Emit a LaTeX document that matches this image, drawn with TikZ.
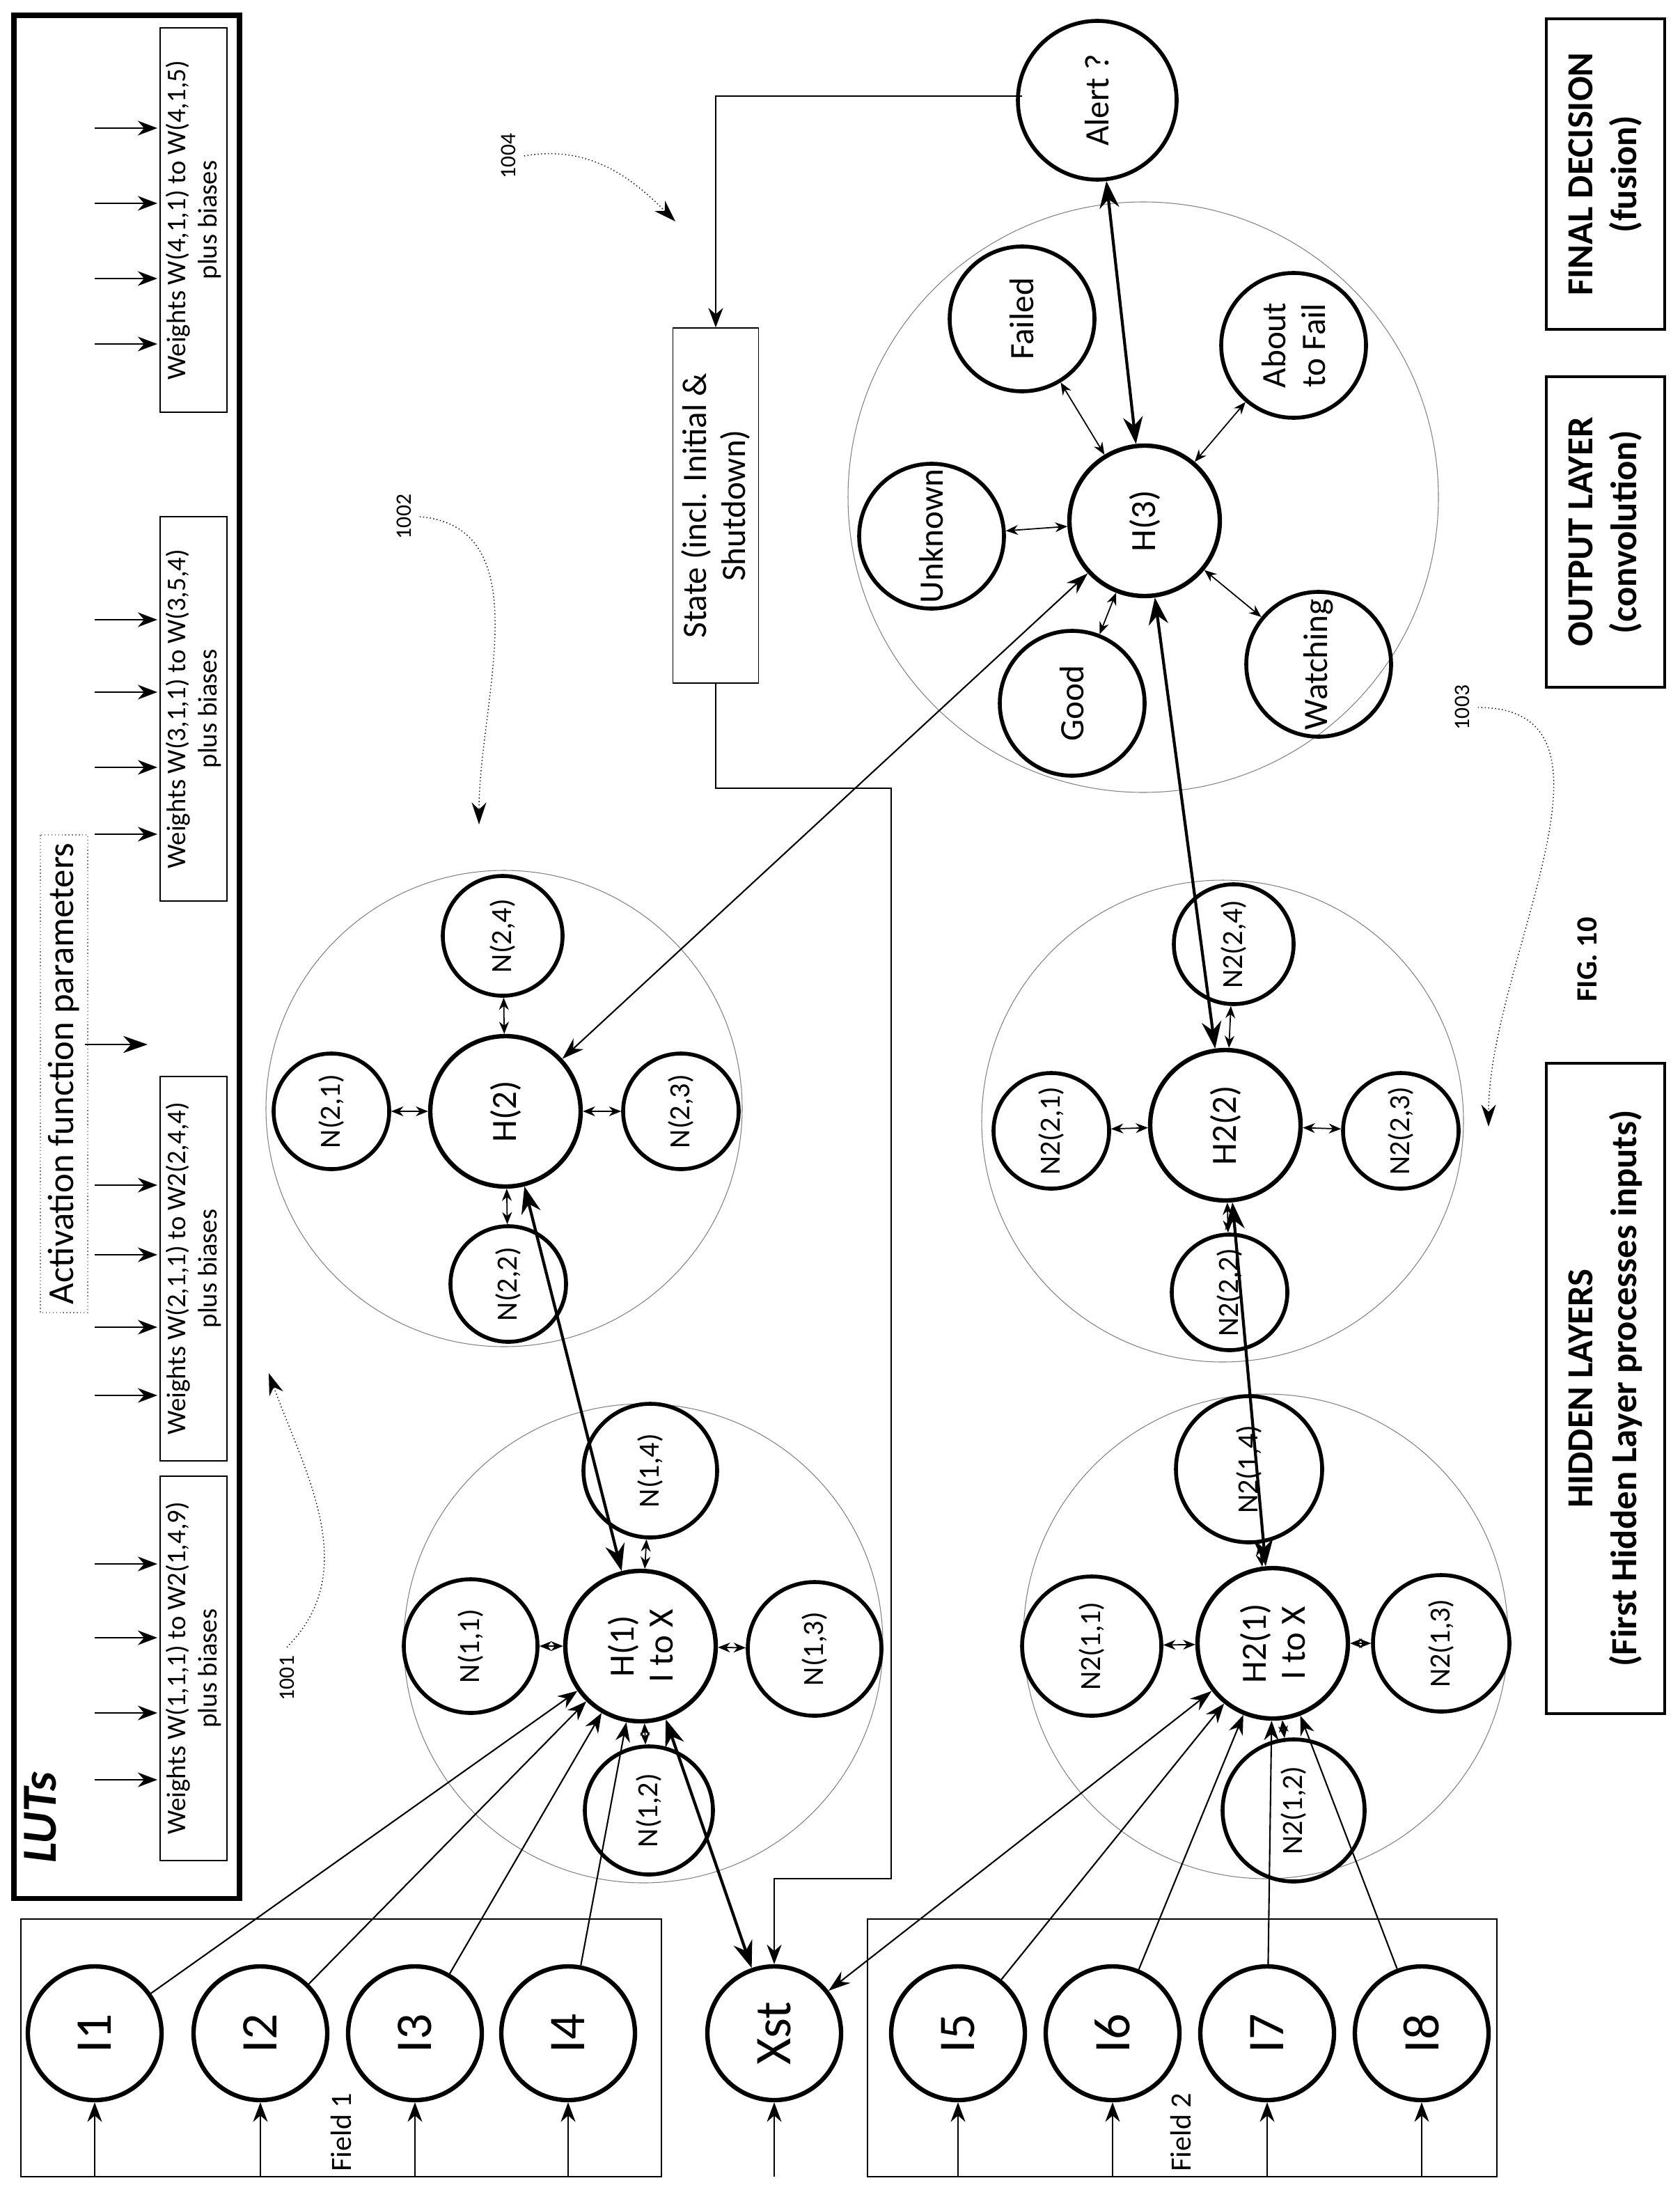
\documentclass[tikz,border=0pt]{standalone}
\usepackage{fontspec}
\setmainfont{Carlito}
\usetikzlibrary{arrows.meta,positioning}

\tikzset{
  hub/.style={circle,draw,line width=1.8pt,minimum size=21.6mm,inner sep=0pt,rotate=90,align=center,font=\fontsize{14.5}{16}\selectfont},
  sat/.style={circle,draw,line width=1.6pt,minimum size=16.6mm,inner sep=0pt,rotate=90,align=center,font=\fontsize{12}{14}\selectfont},
  outn/.style={circle,draw,line width=1.6pt,minimum size=20.8mm,inner sep=0pt,rotate=90,align=center,font=\fontsize{14}{16}\selectfont},
  inp/.style={circle,draw,line width=1.8pt,minimum size=19.2mm,inner sep=0pt,rotate=90,font=\fontsize{21}{23}\selectfont},
  wbox/.style={draw,rotate=90,minimum width=55.2mm,minimum height=9.6mm,align=center,inner sep=1pt,font=\fontsize{11}{13}\selectfont},
  lbox/.style={draw,line width=1.4pt,rotate=90,minimum height=17mm,align=center,font=\bfseries\fontsize{15}{18}\selectfont},
  grp/.style={draw=gray,line width=0.3pt},
  sml/.style={<->,>={Stealth[length=5pt,width=4pt]},line width=0.5pt},
  big/.style={<->,>={Stealth[length=11pt,width=8pt]},line width=1.2pt},
  lnk/.style={->,>={Stealth[length=8pt,width=6pt]},line width=0.6pt},
  refn/.style={rotate=90,font=\fontsize{9}{11}\selectfont},
  refa/.style={->,>={Stealth[length=9pt,width=6pt]},densely dotted,line width=0.4pt}
}

\begin{document}
\begin{tikzpicture}[x=0.2mm,y=-0.2mm]
  \useasboundingbox (0,0) rectangle (1206,1574);

  % LUTs
  \draw[line width=2pt] (10,11) rectangle (172,1363);
  \node[rotate=90,font=\bfseries\itshape\fontsize{20}{22}\selectfont] (luts) at (29,1305) {LUTs};
  \node[wbox] (w1) at (139,1198) {Weights W(1,1,1) to W2(1,4,9)\\plus biases};
  \node[wbox] (w2) at (139,911) {Weights W(2,1,1) to W2(2,4,4)\\plus biases};
  \node[wbox] (w3) at (139,509) {Weights W(3,1,1) to W(3,5,4)\\plus biases};
  \node[wbox] (w4) at (139,158) {Weights W(4,1,1) to W(4,1,5)\\plus biases};
  \foreach \y in {1278,1230,1176,1123,1002,953,901,851,599,551,497,445,247,200,146,92}
    \draw[lnk] (68,\y) -- (113,\y);
  \node[draw=gray,densely dotted,rotate=90,minimum width=68.4mm,minimum height=6mm,font=\fontsize{15}{17}\selectfont] (act) at (46,771) {Activation function parameters};
  \coordinate (acte) at (106,750);
  \draw[->,>={Stealth[length=10pt,width=7pt]},line width=0.6pt] (61,750) -- (acte);

  % inputs
  \draw (15,1378) rectangle (475,1563);
  \draw (623,1378) rectangle (1075,1563);
  \node[rotate=90,font=\fontsize{12}{14}\selectfont] (f1) at (245,1531) {Field 1};
  \node[rotate=90,font=\fontsize{12}{14}\selectfont] (f2) at (848,1531) {Field 2};
  \foreach \n/\t/\x in {i1/I1/68,i2/I2/187,i3/I3/298,i4/I4/408,xst/Xst/556,i5/I5/688,i6/I6/799,i7/I7/910,i8/I8/1021}{
    \node[inp] (\n) at (\x,1460) {\t};
    \coordinate (\n-s) at (\x,1563);
    \draw[lnk] (\n-s) -- (\n);
  }

  % hidden layer groups
  \draw[grp] (462,1180) circle (172);
  \draw[grp] (362,796) circle (171);
  \draw[grp] (909,1175) circle (174);
  \draw[grp] (878,805) circle (173);
  \draw[grp] (821,357) circle (212);

  \node[hub] (h1) at (460,1182) {H(1)\\I to X};
  \node[sat,minimum size=19.2mm] (n11) at (338,1182) {N(1,1)};
  \node[sat,minimum size=19.2mm] (n14) at (467,1056) {N(1,4)};
  \node[sat,minimum size=19.2mm] (n13) at (585,1184) {N(1,3)};
  \node[sat,minimum size=18.4mm] (n12) at (466,1300) {N(1,2)};

  \node[hub] (h2) at (363,798) {H(2)};
  \node[sat] (n21) at (238,798) {N(2,1)};
  \node[sat,minimum size=17.2mm] (n24) at (361,672) {N(2,4)};
  \node[sat] (n23) at (489,798) {N(2,3)};
  \node[sat] (n22) at (365,922) {N(2,2)};

  \node[hub] (h21) at (914,1180) {H2(1)\\I to X};
  \node[sat,minimum size=20mm] (m11) at (784,1182) {N2(1,1)};
  \node[sat,minimum size=19.6mm] (m13) at (1035,1180) {N2(1,3)};
  \node[sat,minimum size=21mm] (m14) at (897,1055) {N2(1,4)};
  \node[sat,minimum size=20.4mm] (m12) at (929,1300) {N2(1,2)};

  \node[hub] (h22) at (880,808) {H2(2)};
  \node[sat] (m21) at (755,812) {N2(2,1)};
  \node[sat] (m23) at (1006,812) {N2(2,3)};
  \node[sat,minimum size=17.2mm] (m24) at (886,678) {N2(2,4)};
  \node[sat] (m22) at (883,928) {N2(2,2)};

  % output layer
  \node[hub] (h3) at (822,374) {H(3)};
  \node[outn] (unk) at (669,385) {Unknown};
  \node[outn] (fail) at (734,229) {Failed};
  \node[outn] (abf) at (929,248) {About\\to Fail};
  \node[outn] (wat) at (947,477) {Watching};
  \node[outn] (good) at (770,505) {Good};
  \node[outn,minimum size=22.8mm] (alert) at (788,72) {Alert ?};

  \foreach \a/\b in {h1/n11,h1/n14,h1/n13,h1/n12,h2/n21,h2/n23,h2/n24,h2/n22,
      h21/m11,h21/m13,h21/m14,h21/m12,h22/m21,h22/m23,h22/m24,h22/m22,
      h3/unk,h3/fail,h3/abf,h3/wat,h3/good}
    \draw[sml] (\a) -- (\b);

  \foreach \n in {i1,i2,i3,i4}
    \draw[lnk] (\n) -- (h1);
  \foreach \n in {i5,i6,i7,i8}
    \draw[lnk] (\n) -- (h21);
  \draw[<->,>={Stealth[length=9pt,width=6pt]},line width=0.6pt] (xst) -- (h21);
  \draw[<->,>={Stealth[length=9pt,width=6pt]},line width=0.6pt] (h3) -- (h2);
  \draw[big] (xst) -- (h1);
  \draw[big] (h1) -- (h2);
  \draw[big] (h21) -- (h22);
  \draw[big] (h22) -- (h3);
  \draw[big] (h3) -- (alert);

  % state feedback
  \node[draw,rotate=90,minimum width=51mm,minimum height=10.2mm,align=center,font=\fontsize{14}{16}\selectfont] (state) at (514,363) {State (incl. Initial \&\\Shutdown)};
  \coordinate (al) at (734,69);
  \coordinate (k1) at (640,566);
  \coordinate (k2) at (600,1349);
  \draw[lnk] (al) -| (state.east);
  \draw[lnk] (state.west) |- (k1) |- (k2) -| (xst.east);

  % reference numerals
  \node[refn] (r1) at (206,1205) {1001};
  \coordinate (r1e) at (193,986);
  \draw[refa] (r1.east) to[out=45,in=-70] (r1e);
  \node[refn] (r2) at (290,371) {1002};
  \coordinate (r2e) at (344,592);
  \draw[refa] (r2.south) to[out=-5,in=90] (r2e);
  \node[refn] (r3) at (1050,508) {1003};
  \coordinate (r3e) at (1069,809);
  \draw[refa] (r3.south) to[out=0,in=90] (r3e);
  \node[refn] (r4) at (365,112) {1004};
  \coordinate (r4e) at (485,159);
  \draw[refa] (r4.south) to[out=10,in=135] (r4e);

  % layer labels
  \node[lbox,minimum width=93.4mm] (hid) at (1153,997) {HIDDEN LAYERS\\(First Hidden Layer processes inputs)};
  \node[lbox,minimum width=44.6mm] (outl) at (1153,382) {OUTPUT LAYER\\(convolution)};
  \node[lbox,minimum width=44.6mm] (fin) at (1153,125) {FINAL DECISION\\(fusion)};
  \node[rotate=90,font=\bfseries\fontsize{12}{14}\selectfont] (fig) at (1140,689) {FIG. 10};
\end{tikzpicture}
\end{document}
